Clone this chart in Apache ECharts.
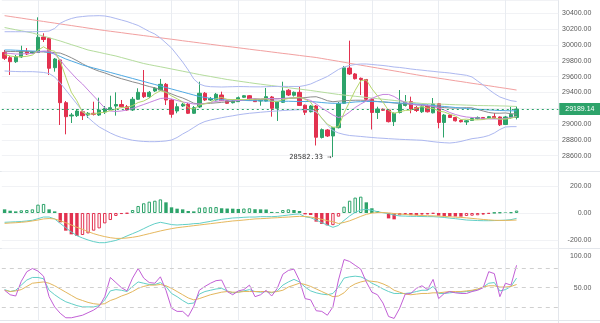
<!DOCTYPE html>
<html><head><meta charset="utf-8">
<script src="https://cdn.jsdelivr.net/npm/echarts@6/dist/echarts.min.js"></script>
<style>html,body{margin:0;padding:0;background:#fff}#c{width:600px;height:323px}</style>
</head><body><div id="c"></div>
<script>
// ---------- data ----------
const slotCount = 100; // category slots on the time axis (93 candles + empty space on the right)
const openP = [29905,29839,29788,29848,29915,29894,29904,30100,30084,29712,
 29810,29270,29102,29106,29156,29114,29136,29114,29152,29186,
 29228,29247,29219,29178,29313,29396,29346,29418,29430,29502,
 29304,29165,29228,29250,29136,29216,29389,29304,29304,29367,
 29295,29270,29283,29338,29358,29308,29291,29291,29342,29199,
 29275,29427,29364,29401,29238,29156,29228,28830,28925,28849,
 28954,29262,29708,29633,29578,29563,29313,29146,29187,29178,
 29030,29146,29235,29283,29209,29155,29228,29142,29257,29020,
 29114,29083,29045,29026,29045,29068,29083,29077,29096,29089,
 28994,29083,29083];
const closeP = [29831,29788,29851,29923,29885,29911,30097,30069,29705,29822,
 29270,29093,29114,29165,29106,29136,29123,29178,29197,29207,
 29247,29219,29178,29313,29401,29346,29401,29452,29502,29304,
 29123,29219,29250,29136,29207,29389,29304,29323,29376,29295,
 29262,29291,29333,29358,29304,29283,29304,29346,29199,29279,
 29418,29367,29401,29235,29149,29228,28833,28929,28849,28954,
 29257,29711,29633,29573,29563,29313,29146,29190,29174,29030,
 29136,29247,29272,29190,29171,29219,29155,29253,29020,29114,
 29083,29041,29029,29041,29070,29083,29064,29093,29074,28990,
 29089,29121,29189.14];
const highP = [29936,29860,29873,29990,29961,29923,30349,30147,30100,29835,
 29822,29291,29140,29190,29178,29152,29282,29333,29228,29358,
 29401,29304,29241,29342,29452,29683,29418,29468,29570,29519,
 29317,29262,29266,29266,29228,29535,29405,29342,29393,29409,
 29304,29304,29348,29367,29367,29317,29310,29456,29355,29285,
 29535,29443,29411,29472,29247,29241,29241,28944,28937,28963,
 29279,29734,30054,29645,29588,29570,29329,29219,29197,29190,
 29146,29430,29367,29346,29228,29241,29247,29329,29266,29127,
 29121,29089,29058,29051,29083,29096,29089,29102,29140,29096,
 29102,29216,29222];
const lowP = [29810,29620,29772,29835,29873,29885,29898,30037,29620,29662,
 28988,28870,29013,29089,29051,29076,29108,29102,29127,29178,
 29106,29209,29165,29165,29304,29329,29329,29405,29418,29241,
 29080,29136,29216,29127,29127,29203,29291,29291,29298,29291,
 29253,29260,29279,29329,29298,29279,29232,29285,29093,29039,
 29266,29355,29348,29228,29114,29146,28729,28817,28836,28582.33,
 28944,29254,29620,29563,29367,29304,28931,29064,29165,29020,
 28975,29134,29222,29136,29152,29140,29146,29134,28946,28830,
 29076,29032,29020,28988,29039,29058,29058,29070,29064,28975,
 28988,29064,29058];

const ma5 = [29880,29860,29850,29850,29856,29872,29933,29977,29933,29921,
 29793,29592,29401,29293,29150,29123,29129,29142,29148,29168,
 29190,29210,29210,29233,29272,29291,29328,29383,29420,29401,
 29356,29320,29280,29206,29187,29240,29257,29272,29320,29337,
 29312,29309,29311,29308,29310,29314,29316,29319,29287,29282,
 29309,29322,29333,29340,29314,29276,29169,29075,28998,28959,
 28964,29140,29281,29426,29547,29559,29446,29357,29277,29171,
 29135,29155,29172,29175,29203,29220,29201,29198,29164,29152,
 29125,29102,29057,29062,29053,29053,29057,29070,29077,29061,
 29062,29073,29093];
const ma10 = [29898,29892,29885,29885,29892,29892,29911,29923,29923,29885,
 29810,29721,29645,29569,29506,29430,29355,29279,29203,29165,
 29159,29165,29178,29197,29222,29247,29272,29298,29323,29329,
 29317,29298,29279,29266,29253,29253,29260,29272,29285,29298,
 29304,29304,29298,29304,29317,29323,29317,29323,29323,29317,
 29323,29329,29336,29336,29317,29298,29253,29203,29159,29114,
 29083,29102,29152,29209,29253,29291,29323,29355,29374,29374,
 29348,29304,29272,29253,29241,29241,29235,29222,29203,29178,
 29146,29121,29102,29089,29083,29077,29070,29064,29064,29064,
 29070,29083,29095];
const ma30 = [29936,29936,29933,29930,29927,29923,29920,29917,29904,29885,
 29854,29822,29797,29772,29746,29727,29708,29690,29671,29652,
 29633,29614,29595,29576,29557,29538,29519,29500,29481,29462,
 29443,29424,29405,29386,29367,29348,29336,29325,29317,29310,
 29304,29301,29299,29298,29296,29295,29294,29291,29291,29289,
 29288,29288,29286,29285,29285,29284,29279,29272,29266,29262,
 29262,29266,29272,29279,29283,29285,29285,29283,29279,29275,
 29270,29266,29262,29257,29253,29247,29241,29235,29228,29222,
 29216,29209,29203,29197,29190,29186,29183,29178,29175,29171,
 29169,29167,29167];
const bollMid = [29919,29917,29916,29915,29915,29915,29913,29911,29908,29902,
 29897,29870,29838,29802,29762,29725,29694,29667,29646,29620,
 29595,29573,29554,29533,29516,29494,29474,29458,29434,29406,
 29380,29352,29329,29298,29263,29254,29257,29262,29268,29274,
 29282,29288,29296,29300,29304,29306,29310,29314,29318,29321,
 29324,29325,29327,29328,29334,29342,29345,29323,29295,29282,
 29289,29295,29298,29301,29301,29298,29292,29285,29280,29273,
 29266,29261,29255,29249,29243,29238,29230,29222,29214,29208,
 29203,29201,29203,29207,29205,29184,29165,29146,29137,29137,
 29140,29131,29126];
const bollUp = [30167,30167,30167,30167,30167,30167,30168,30170,30176,30208,
 30274,30309,30334,30351,30359,30366,30368,30370,30366,30353,
 30334,30315,30296,30271,30246,30208,30170,30138,30088,30025,
 29961,29873,29784,29683,29569,29506,29481,29472,29470,29468,
 29470,29472,29474,29473,29471,29470,29470,29472,29474,29476,
 29476,29475,29475,29475,29487,29506,29538,29569,29601,29645,
 29690,29721,29740,29753,29759,29759,29753,29746,29740,29731,
 29721,29715,29706,29696,29688,29681,29673,29666,29658,29652,
 29645,29635,29626,29616,29595,29544,29494,29437,29386,29342,
 29317,29295,29285];
const bollLow = [29671,29667,29664,29662,29662,29662,29658,29652,29639,29595,
 29519,29430,29342,29253,29165,29083,29020,28963,28925,28887,
 28855,28830,28811,28795,28786,28780,28777,28777,28780,28786,
 28798,28830,28874,28912,28957,29001,29032,29051,29066,29080,
 29093,29104,29117,29127,29136,29142,29149,29155,29161,29165,
 29171,29175,29178,29181,29181,29178,29152,29076,28988,28918,
 28887,28868,28855,28849,28843,28836,28830,28824,28820,28815,
 28811,28807,28804,28801,28798,28795,28786,28777,28769,28764,
 28760,28767,28780,28798,28815,28824,28836,28855,28887,28931,
 28963,28967,28967];
const maLongRed = [30370,30360,30349,30339,30328,30318,30307,30297,30286,30276,
 30265,30255,30245,30234,30224,30213,30203,30192,30182,30173,
 30164,30155,30145,30136,30127,30118,30109,30099,30090,30081,
 30072,30063,30053,30044,30035,30026,30017,30008,29999,29990,
 29981,29973,29964,29955,29946,29937,29929,29920,29911,29902,
 29893,29885,29876,29867,29858,29850,29841,29829,29817,29805,
 29793,29781,29768,29756,29744,29732,29720,29708,29696,29684,
 29672,29660,29647,29635,29623,29611,29600,29590,29579,29569,
 29558,29547,29537,29526,29515,29505,29494,29484,29473,29462,
 29452,29441,29430];
const maLongGreen = [30220,30206,30192,30179,30165,30151,30131,30111,30091,30070,
 30050,30027,30004,29982,29959,29936,29921,29906,29890,29875,
 29860,29841,29822,29803,29784,29765,29751,29737,29724,29710,
 29696,29682,29668,29654,29640,29626,29613,29601,29588,29576,
 29563,29553,29543,29533,29523,29513,29504,29495,29486,29477,
 29468,29459,29450,29442,29433,29424,29414,29404,29394,29384,
 29374,29366,29359,29351,29344,29336,29328,29321,29313,29306,
 29298,29290,29283,29275,29268,29260,29257,29255,29252,29250,
 29247,29244,29242,29239,29237,29234,29233,29232,29231,29229,
 29228,29225,29222];

const macdHist = [27,17,12,20,22,27,62,67,27,12,
 -69,-131,-158,-170,-163,-151,-131,-114,-77,-52,
 -22,-8,-4,22,52,72,84,91,101,79,
 42,32,27,15,12,40,42,43,44,35,
 33,32,30,33,35,28,27,26,8,6,
 22,27,22,15,-10,-15,-64,-81,-92,-90,
 -27,47,91,114,121,79,35,15,2,-40,
 -47,-17,-15,-16,-17,-12,-11,-5,-20,-22,
 -25,-26,-27,-22,-20,-17,-12,-6,2,4,
 4,5,18];
const macdDif = [-69,-67,-65,-63,-59,-54,-42,-30,-30,-44,
 -77,-109,-141,-168,-185,-200,-212,-220,-220,-212,
 -203,-188,-170,-153,-136,-116,-96,-79,-69,-77,
 -86,-89,-86,-84,-79,-77,-69,-62,-54,-47,
 -42,-37,-35,-32,-30,-30,-27,-27,-27,-25,
 -20,-15,-10,-7,-28,-35,-52,-72,-89,-106,
 -92,-55,-22,5,22,27,20,10,2,-5,
 -15,-22,-23,-25,-25,-26,-27,-27,-30,-33,
 -38,-42,-47,-52,-54,-56,-57,-57,-56,-55,
 -53,-49,-40];
const macdDea = [-77,-74,-72,-69,-65,-59,-52,-44,-41,-44,
 -57,-72,-89,-106,-121,-138,-153,-165,-175,-183,
 -188,-188,-185,-180,-173,-163,-153,-143,-133,-124,
 -116,-109,-104,-99,-94,-89,-84,-79,-74,-69,
 -64,-59,-56,-52,-48,-44,-42,-40,-37,-35,
 -32,-30,-27,-25,-26,-30,-37,-47,-57,-64,
 -78,-70,-58,-42,-25,-10,-1,3,3,1,
 -4,-7,-11,-14,-16,-19,-20,-21,-23,-26,
 -28,-31,-33,-36,-40,-44,-48,-51,-54,-55,
 -55,-54,-52];

const kdjK = [47,44,46,54,62,66,66,64,46,39,
 33,28,25,22,20,20,20,22,31,45,
 47,46,44,52,59,57,55,55,58,52,
 41,36,30,25,26,40,44,46,48,49,
 45,42,43,45,47,44,43,44,42,45,
 54,59,63,59,51,45,42,40,39,41,
 51,65,67,68,67,63,57,53,48,44,
 41,41,41,42,44,46,46,52,41,41,
 42,43,43,44,45,47,51,57,58,45,
 47,52,65];
const kdjD = [46,44,45,47,52,57,58,59,57,53,
 48,43,38,33,30,27,25,24,25,30,
 33,37,40,44,49,52,54,54,55,53,
 49,44,39,34,31,33,36,39,41,43,
 44,43,43,44,44,44,44,44,43,44,
 46,51,54,57,55,52,48,44,40,36,
 37,42,51,56,59,61,60,59,56,52,
 46,43,40,39,40,41,41,42,42,43,
 44,44,44,45,46,48,51,53,53,51,
 51,52,55];
const kdjJ = [46,39,37,60,75,80,76,68,36,20,
 10,3,3,5,7,11,15,21,36,66,
 58,50,45,65,80,65,58,57,67,46,
 18,13,13,5,21,46,52,57,61,62,
 44,39,45,47,54,36,39,46,37,49,
 71,77,79,61,33,31,14,13,7,20,
 62,94,91,85,79,59,43,39,26,5,
 2,18,40,41,49,53,47,63,33,41,
 44,42,41,41,44,46,50,75,72,36,
 57,54,85];

const priceTicks = [28600, 30400, 200];   // first, last, step of price labels
const macdTicks = [-200, 200, 200];
const kdjLevels = [20, 50, 80];
const kdjLabels = [50, 100];
const timeGridIdx = [6, 18, 30, 42, 54, 66, 78, 90]; // candles that carry a vertical grid line

// ---------- build ----------
const UP = '#2da36a', DOWN = '#e2314f';
const categories = Array.from({length: slotCount}, (_, i) => String(i));
const candles = openP.map((o, i) => [o, closeP[i], lowP[i], highP[i]]);
const lastClose = closeP[closeP.length - 1];
let minIdx = 0;
lowP.forEach((v, i) => { if (v < lowP[minIdx]) minIdx = i; });

const histData = macdHist.map((v, i) => {
  const prev = i > 0 ? macdHist[i - 1] : v;
  const col = v >= 0 ? UP : DOWN;
  const hollow = i > 0 && v > prev;
  return { value: v, itemStyle: hollow ? { color: '#ffffff', borderColor: col, borderWidth: 1 } : { color: col } };
});

const L = 1.8, R = 600 - 558.3;
const gridLineCol = '#e9ecf1';
function xAx(g) {
  return {
    type: 'category', gridIndex: g, data: categories, boundaryGap: true,
    axisLine: { show: false }, axisTick: { show: false }, axisLabel: { show: false },
    splitLine: { show: false }
  };
}
const vGrid = {
  silent: true, symbol: ['none', 'none'], z: 1, label: { show: false },
  lineStyle: { color: gridLineCol, type: 'solid', width: 1 },
  data: timeGridIdx.map(i => ({ xAxis: i }))
};
const labelStyle = { fontSize: 7, color: '#5a5a5a', fontFamily: 'Liberation Sans, Arial, sans-serif', align: 'right', margin: 33 };
function line(name, data, color, xi, yi, extra) {
  return Object.assign({ name, type: 'line', data, xAxisIndex: xi, yAxisIndex: yi, symbol: 'none', smooth: false,
    lineStyle: { color, width: 1 }, itemStyle: { color }, z: 3, silent: true }, extra || {});
}

const option = {
  animation: false,
  backgroundColor: '#ffffff',
  grid: [
    { left: L, right: R, top: 0, height: 171.5 },
    { left: L, right: R, top: 171.5, height: 77 },
    { left: L, right: R, top: 248.5, height: 72 }
  ],
  xAxis: [xAx(0), xAx(1), xAx(2)],
  yAxis: [
    { type: 'value', gridIndex: 0, position: 'right', min: 28400, max: 30568, interval: priceTicks[2],
      axisLine: { show: false }, axisTick: { show: false },
      axisLabel: Object.assign({}, labelStyle, { showMinLabel: false, showMaxLabel: false,
        formatter: v => (v >= priceTicks[0] && v <= priceTicks[1]) ? v.toFixed(2) : '' }),
      splitLine: { show: true, lineStyle: { color: '#f1f2f5' } } },
    { type: 'value', gridIndex: 1, position: 'right', min: -263, max: 307.4, minInterval: 200, maxInterval: 200,
      axisLine: { show: false }, axisTick: { show: false },
      axisLabel: Object.assign({}, labelStyle, { showMinLabel: false, showMaxLabel: false,
        formatter: v => (v >= macdTicks[0] && v <= macdTicks[1]) ? v.toFixed(2) : '' }),
      splitLine: { show: true, lineStyle: { color: '#f1f2f5' } } },
    { type: 'value', gridIndex: 2, position: 'right', min: -1.25, max: 111.25, minInterval: 50, maxInterval: 50,
      axisLine: { show: false }, axisTick: { show: false },
      axisLabel: Object.assign({}, labelStyle, { showMinLabel: false, showMaxLabel: false,
        formatter: v => kdjLabels.includes(v) ? v.toFixed(2) : '' }),
      splitLine: { show: false } }
  ],
  series: [
    line('MA200', maLongRed, '#f2a0a0', 0, 0, { markLine: vGrid }),
    line('MA99', maLongGreen, '#b4dc9c', 0, 0),
    line('UP', bollUp, '#adb8f0', 0, 0),
    line('DN', bollLow, '#adb8f0', 0, 0),
    line('MID', bollMid, '#8c8c8c', 0, 0),
    line('MA30', ma30, '#4fa9e3', 0, 0),
    line('MA10', ma10, '#c684df', 0, 0),
    line('MA5', ma5, '#b6d66c', 0, 0),
    {
      name: 'K', type: 'candlestick', xAxisIndex: 0, yAxisIndex: 0, data: candles, barWidth: 3.8, z: 2, clip: false,
      itemStyle: { color: UP, color0: DOWN, borderColor: UP, borderColor0: DOWN, borderWidth: 1 },
      markLine: {
        silent: true, symbol: ['none', 'none'], z: 6,
        lineStyle: { color: UP, type: [2, 3], width: 1 },
        label: { show: true, position: 'end', distance: 1, formatter: lastClose.toFixed(2), color: '#fff',
          backgroundColor: UP, padding: [3, 6, 2, 6], fontSize: 7, fontFamily: 'Liberation Sans, Arial, sans-serif' },
        data: [{ yAxis: lastClose }]
      },
      markPoint: {
        silent: true, symbol: 'rect', symbolSize: 1, itemStyle: { color: 'rgba(0,0,0,0)' },
        label: { show: true, position: 'left', distance: 1, formatter: lowP[minIdx].toFixed(2) + ' \u2192',
          fontSize: 7, color: '#333', fontFamily: 'DejaVu Sans Mono, monospace' },
        data: [{ coord: [minIdx, lowP[minIdx]] }]
      }
    },
    { name: 'MACD', type: 'bar', xAxisIndex: 1, yAxisIndex: 1, data: histData, barWidth: 3.4, z: 2, silent: true,
      markLine: vGrid },
    line('DIF', macdDif, '#62cfc7', 1, 1, { clip: false }),
    line('DEA', macdDea, '#e6b85e', 1, 1, { clip: false }),
    line('Kline', kdjK, '#62cfc7', 2, 2, {
      markLine: { silent: true, symbol: ['none', 'none'], label: { show: false },
        lineStyle: { color: '#d0d0d0', type: [4, 4], width: 1 },
        data: kdjLevels.map(v => ({ yAxis: v })) }
    }),
    line('Dline', kdjD, '#e3b65c', 2, 2, { markLine: vGrid }),
    line('Jline', kdjJ, '#c25fd6', 2, 2)
  ],
  graphic: [
    { type: 'line', shape: { x1: 0, y1: 171.5, x2: 600, y2: 171.5 }, style: { stroke: '#e3e6eb', lineWidth: 1 }, silent: true },
    { type: 'line', shape: { x1: 0, y1: 248.5, x2: 600, y2: 248.5 }, style: { stroke: '#e3e6eb', lineWidth: 1 }, silent: true },
    { type: 'line', shape: { x1: 0, y1: 320.5, x2: 600, y2: 320.5 }, style: { stroke: '#e3e6eb', lineWidth: 1 }, silent: true },
    { type: 'line', shape: { x1: 558.5, y1: 0, x2: 558.5, y2: 323 }, style: { stroke: '#e3e6eb', lineWidth: 1 }, silent: true }
  ]
};
const chart = echarts.init(document.getElementById('c'));
chart.setOption(option);
</script>
</body></html>
